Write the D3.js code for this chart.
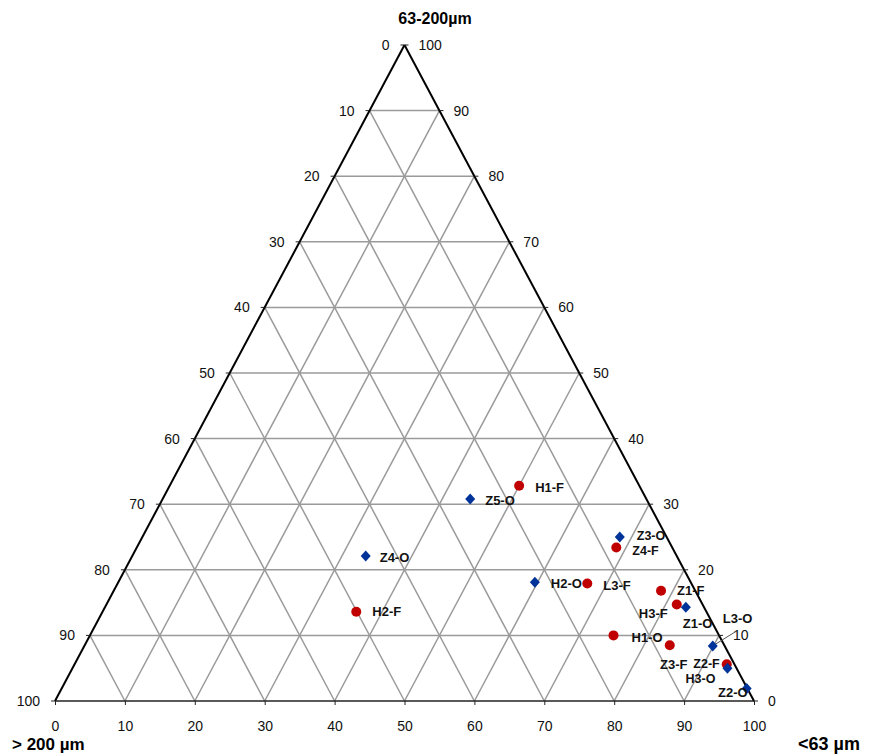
<!DOCTYPE html>
<html><head><meta charset="utf-8">
<script src="https://cdn.jsdelivr.net/npm/d3@7"></script>
<style>body{margin:0;background:#fff;} svg{display:block;}</style>
</head><body>
<script>
// ---- data ----
const names   = ["H1-F","Z5-O","Z3-O","Z4-F","Z4-O","H2-F","H2-O","L3-F","Z1-F","H3-F","Z1-O","H1-O","Z3-F","L3-O","Z2-F","H3-O","Z2-O"];
const types   = ["F","O","O","F","O","F","O","F","F","F","O","F","F","O","F","O","O"];
const fine    = [50, 44, 68.3, 68.6, 33.4, 36.3, 59.6, 67.2, 78.3, 81.6, 83.1, 74.9, 83.7, 89.9, 93.3, 93.7, 98.0]; // <63 µm
const medium  = [32.8, 30.8, 25.0, 23.4, 22.1, 13.6, 18.1, 17.9, 16.8, 14.7, 14.3, 10.0, 8.5, 8.4, 5.6, 5.0, 1.9]; // 63-200 µm
const coarse  = fine.map((f,i)=>+(100-f-medium[i]).toFixed(1)); // >200 µm (remainder)
const ticks   = [0,10,20,30,40,50,60,70,80,90,100];
const titleTop = "63-200µm", titleLeft = "> 200 µm", titleRight = "<63 µm";
// label placement (px offsets) for readability
const labelDx = [16,15,17,16,14,16,16,16,16,-9,-3,18,4,10,-7,-12,1];
const labelDy = [2,1,-1,3,1,0,1,2,0,9,16,2,19,-27,-1,10,4];
const labelSize = [13,13,12.5,12.5,13,13,13,13,13,13,13,13,13,13,12.5,12.5,13];
const labelAnchor = ["start","start","start","start","start","start","start","start","start","end","start","start","middle","start","end","end","end"];

const W=869,H=755;
const svg=d3.select("body").append("svg").attr("width",W).attr("height",H);
const x=d3.scaleLinear().domain([0,100]).range([55,754]);
const y=d3.scaleLinear().domain([0,100]).range([701,45]);
const px=(b,t)=>x(b+t/2), py=(b,t)=>y(t);

const font="'Liberation Sans', Arial, sans-serif";
const grid=svg.append("g").attr("stroke","#9a9a9a").attr("stroke-width",1.5).attr("fill","none");
ticks.slice(1,-1).forEach(v=>{
  grid.append("line").attr("x1",px(0,v)).attr("y1",py(0,v)).attr("x2",px(100-v,v)).attr("y2",py(100-v,v));
  grid.append("line").attr("x1",px(v,0)).attr("y1",py(v,0)).attr("x2",px(v,100-v)).attr("y2",py(v,100-v));
  grid.append("line").attr("x1",px(100-v,0)).attr("y1",py(100-v,0)).attr("x2",px(0,100-v)).attr("y2",py(0,100-v));
});
// outline
svg.append("line").attr("x1",px(0,0)).attr("y1",py(0,0)).attr("x2",px(100,0)).attr("y2",py(100,0)).attr("stroke","#222").attr("stroke-width",1.6);
svg.append("line").attr("x1",px(0,0)).attr("y1",py(0,0)).attr("x2",px(0,100)).attr("y2",py(0,100)).attr("stroke","#000").attr("stroke-width",2);
svg.append("line").attr("x1",px(100,0)).attr("y1",py(100,0)).attr("x2",px(0,100)).attr("y2",py(0,100)).attr("stroke","#000").attr("stroke-width",2);

// bottom axis
const bax=svg.append("g").attr("transform",`translate(0,${y(0)})`)
  .call(d3.axisBottom(x).tickValues(ticks).tickSize(4).tickFormat(d3.format("d")));
bax.select(".domain").remove();
bax.selectAll("line").attr("stroke","#222");
bax.selectAll("text").attr("font-family",font).attr("font-size",14).attr("fill","#111").attr("dy","1.65em");

const tg=svg.append("g").attr("font-family",font).attr("font-size",14).attr("fill","#111");
ticks.forEach(v=>{
  tg.append("text").attr("x",px(0,v)-15).attr("y",py(0,v)).attr("dy","0.35em").attr("text-anchor","end").text(100-v);
  svg.append("line").attr("x1",px(0,v)-4).attr("y1",py(0,v)).attr("x2",px(0,v)).attr("y2",py(0,v)).attr("stroke","#222");
  tg.append("text").attr("x",px(100-v,v)+14).attr("y",py(100-v,v)).attr("dy","0.35em").attr("text-anchor","start").text(v);
  svg.append("line").attr("x1",px(100-v,v)).attr("y1",py(100-v,v)).attr("x2",px(100-v,v)+4).attr("y2",py(100-v,v)).attr("stroke","#222");
});

// titles
svg.append("text").attr("x",435).attr("y",24).attr("text-anchor","middle").attr("font-family",font).attr("font-weight","bold").attr("font-size",16).text(titleTop);
svg.append("text").attr("x",12).attr("y",750).attr("font-family",font).attr("font-weight","bold").attr("font-size",17).text(titleLeft);
svg.append("text").attr("x",798).attr("y",750).attr("font-family",font).attr("font-weight","bold").attr("font-size",18).text(titleRight);

// leader line for L3-O
const iL=names.indexOf("L3-O");
svg.append("line").attr("x1",px(fine[iL],medium[iL])).attr("y1",py(fine[iL],medium[iL]))
  .attr("x2",px(fine[iL],medium[iL])+24).attr("y2",py(fine[iL],medium[iL])-15).attr("stroke","#555").attr("stroke-width",1);

// points
const pts=svg.append("g");
names.forEach((n,i)=>{
  const cx=px(fine[i],medium[i]), cy=py(fine[i],medium[i]);
  if(types[i]==="F"){
    pts.append("circle").attr("cx",cx).attr("cy",cy).attr("r",5).attr("fill","#c00000");
  } else {
    pts.append("path").attr("d","M0,-5.5L5,0L0,5.5L-5,0Z")
      .attr("transform",`translate(${cx},${cy})`).attr("fill","#003399");
  }
});
names.forEach((n,i)=>{
  const cx=px(fine[i],medium[i]), cy=py(fine[i],medium[i]);
  svg.append("text").attr("x",cx+labelDx[i]).attr("y",cy+labelDy[i]).attr("dy","0.35em")
    .attr("text-anchor",labelAnchor[i]).attr("font-family",font).attr("font-weight","bold").attr("font-size",labelSize[i]).attr("fill","#111").text(n);
});
</script>
</body></html>
